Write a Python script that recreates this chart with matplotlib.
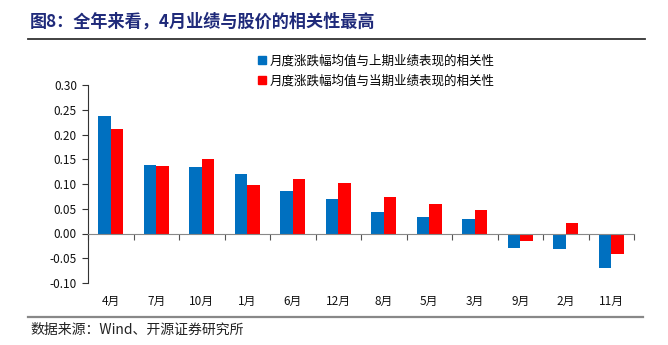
import numpy as np
import matplotlib.pyplot as plt
from matplotlib.lines import Line2D

plt.rcParams['font.family'] = ['Noto Sans CJK SC', 'DejaVu Sans']

# data
months = ["4月", "7月", "10月", "1月", "6月", "12月", "8月", "5月", "3月", "9月", "2月", "11月"]
corr_prev = [0.238, 0.139, 0.135, 0.121, 0.086, 0.069, 0.044, 0.034, 0.030, -0.029, -0.031, -0.069]
corr_curr = [0.211, 0.136, 0.150, 0.098, 0.110, 0.102, 0.074, 0.060, 0.048, -0.016, 0.022, -0.042]
label_prev = "月度涨跌幅均值与上期业绩表现的相关性"
label_curr = "月度涨跌幅均值与当期业绩表现的相关性"
title = "图8：全年来看，4月业绩与股价的相关性最高"
source = "数据来源：Wind、开源证券研究所"

fig = plt.figure(figsize=(6.68, 3.45), dpi=100)
ax = fig.add_axes([88/668, 1-283/345, (634-88)/668, (283-85)/345])

x = np.arange(len(months))
w = 0.28
ax.bar(x - w/2, corr_prev, w, color="#0070C0", label=label_prev, zorder=2)
ax.bar(x + w/2, corr_curr, w, color="#FF0000", label=label_curr, zorder=2)

ax.set_xlim(-0.5, len(months) - 0.5)
ax.set_ylim(-0.10, 0.30)
ax.set_yticks(np.arange(-0.10, 0.301, 0.05))
ax.yaxis.set_major_formatter(plt.FormatStrFormatter("%.2f"))
ax.tick_params(axis="y", direction="out", length=4, width=0.8, labelsize=8.5, pad=4,
               colors="#333333", labelcolor="#111111")

# x axis sits on zero, ticks between categories
ax.spines["bottom"].set_position(("data", 0))
ax.spines["bottom"].set_color("#888888")
ax.spines["left"].set_color("#333333")
ax.spines["top"].set_visible(False)
ax.spines["right"].set_visible(False)
ax.set_xticks(np.arange(-0.5, len(months), 1.0))
ax.set_xticklabels([])
ax.tick_params(axis="x", direction="out", length=4, width=0.8, colors="#555555")

for i, m in enumerate(months):
    ax.text(i, -0.137, m, ha="center", va="center", fontsize=8.5, color="#111111", clip_on=False)

handles = [Line2D([], [], marker="s", ls="", color="#0070C0", markersize=6),
           Line2D([], [], marker="s", ls="", color="#FF0000", markersize=6)]
fig.legend(handles, [label_prev, label_curr], loc="upper left",
           bbox_to_anchor=(251/668, 1-48/345), frameon=False, fontsize=9,
           handlelength=0.7, handletextpad=0.25, labelspacing=0.55, borderpad=0)

fig.text(30/668, 1-22/345, title, fontsize=12.3, fontweight="bold", color="#1F2A7A",
         ha="left", va="center")
fig.add_artist(Line2D([28/668, 645/668], [1-39/345, 1-39/345], color="#333333", lw=1.3))
fig.add_artist(Line2D([28/668, 643/668], [1-317/345, 1-317/345], color="#888888", lw=1.6))
fig.text(30/668, 1-330/345, source, fontsize=10, color="#222222", ha="left", va="center")

fig.savefig("out.png", dpi=100)
